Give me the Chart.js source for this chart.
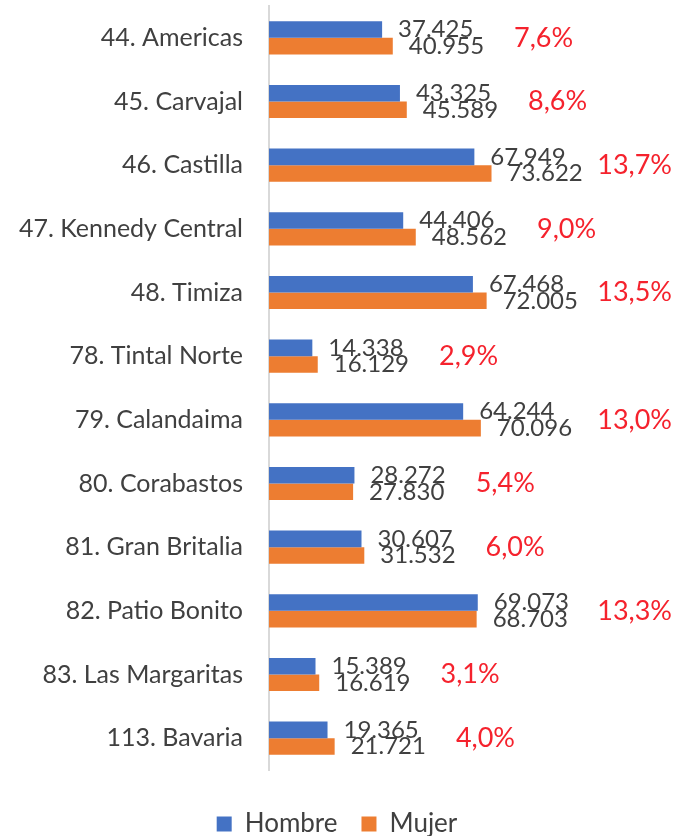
<!DOCTYPE html>
<html>
<head>
<meta charset="utf-8">
<script src="https://cdn.jsdelivr.net/npm/chart.js@4.4.1/dist/chart.umd.min.js"></script>
<style>
  html, body { margin: 0; padding: 0; background: #fff; }
  #wrap { width: 684px; height: 836px; }
</style>
</head>
<body>
<div id="wrap"><canvas id="myChart"></canvas></div>
<script>
const categories = [
    '44. Americas', '45. Carvajal', '46. Castilla', '47. Kennedy Central',
    '48. Timiza', '78. Tintal Norte', '79. Calandaima', '80. Corabastos',
    '81. Gran Britalia', '82. Patio Bonito', '83. Las Margaritas', '113. Bavaria'
];
const hombre = [37425, 43325, 67949, 44406, 67468, 14338, 64244, 28272, 30607, 69073, 15389, 19365];
const mujer = [40955, 45589, 73622, 48562, 72005, 16129, 70096, 27830, 31532, 68703, 16619, 21721];
const porcentaje = ['7,6%', '8,6%', '13,7%', '9,0%', '13,5%', '2,9%', '13,0%', '5,4%', '6,0%', '13,3%', '3,1%', '4,0%'];

const fontName = 'Lato, "Noto Sans", sans-serif';

function fmt(n) {
    return String(n).replace(/\B(?=(\d{3})+(?!\d))/g, '.');
}

// value labels next to each bar plus red share label per row
const barLabels = {
    id: 'barLabels',
    afterDatasetsDraw(chart) {
        const ctx = chart.ctx;
        ctx.save();
        ctx.textBaseline = 'middle';
        ctx.textAlign = 'left';
        const rowEnd = [];
        chart.data.datasets.forEach((ds, i) => {
            const meta = chart.getDatasetMeta(i);
            ctx.font = '24px ' + fontName;
            ctx.fillStyle = '#404040';
            meta.data.forEach((bar, j) => {
                const txt = fmt(ds.data[j]);
                const x = bar.x + 16;
                ctx.fillText(txt, x, bar.y);
                const end = x + ctx.measureText(txt).width;
                rowEnd[j] = Math.max(rowEnd[j] || 0, end);
            });
        });
        const m0 = chart.getDatasetMeta(0), m1 = chart.getDatasetMeta(1);
        ctx.font = '27px ' + fontName;
        ctx.fillStyle = '#F5222D';
        porcentaje.forEach((p, j) => {
            const y = (m0.data[j].y + m1.data[j].y) / 2;
            const w = ctx.measureText(p).width;
            const x = Math.min(rowEnd[j] + 30, chart.width - w - 12);
            ctx.fillText(p, x, y);
        });
        ctx.restore();
    }
};

const ctx = document.getElementById('myChart');

new Chart(ctx, {
    type: 'bar',
    data: {
        labels: categories,
        datasets: [{
            label: 'Hombre',
            data: hombre,
            backgroundColor: '#4472C4',
            categoryPercentage: 0.52,
            barPercentage: 1.0
        }, {
            label: 'Mujer',
            data: mujer,
            backgroundColor: '#ED7D31',
            categoryPercentage: 0.52,
            barPercentage: 1.0
        }]
    },
    options: {
        indexAxis: 'y',
        responsive: true,
        maintainAspectRatio: false,
        animation: false,
        layout: {
            padding: { top: 6, right: 10, left: 0, bottom: -11 }
        },
        scales: {
            x: {
                display: false,
                min: 0,
                max: 134000
            },
            y: {
                afterFit(scale) {
                    scale.width = 269;
                    scale.paddingTop = 0;
                    scale.paddingBottom = 0;
                },
                grid: { display: false },
                border: { display: true, color: '#D9D9D9', width: 2 },
                ticks: {
                    color: '#404040',
                    padding: 18,
                    font: { family: fontName, size: 25 }
                }
            }
        },
        plugins: {
            legend: {
                position: 'bottom',
                // empty title only pushes the legend row down
                title: {
                    display: true,
                    text: ' ',
                    font: { size: 10 },
                    padding: { top: 0, bottom: 5 }
                },
                labels: {
                    color: '#404040',
                    boxWidth: 15,
                    boxHeight: 15,
                    padding: 24,
                    font: { family: fontName, size: 26 }
                }
            },
            tooltip: { enabled: false }
        }
    },
    plugins: [barLabels]
});
</script>
</body>
</html>
